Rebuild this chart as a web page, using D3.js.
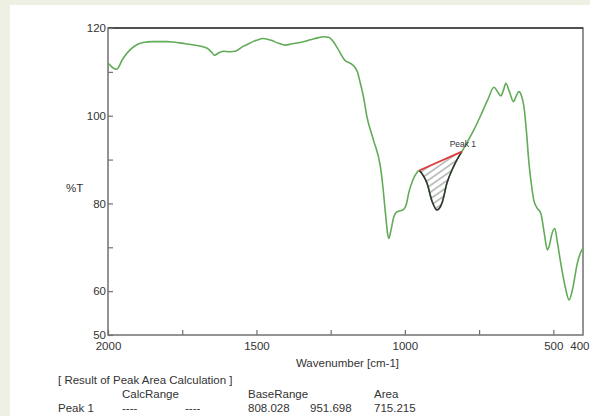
<!DOCTYPE html>
<html><head><meta charset="utf-8">
<script src="https://cdn.jsdelivr.net/npm/d3@7"></script>
<style>
html,body{margin:0;padding:0;background:#eef0e3;}
svg{display:block;font-family:"Liberation Sans",Arial,sans-serif;}
</style></head>
<body>
<svg id="chart" width="590" height="416"></svg>
<script>
// Spectrum data: wavenumber (cm-1) and transmittance (%T)
const wavenumber = [2000,1985,1971,1950,1926,1900,1882,1850,1800,1780,1740,1700,1666,1650,1642,1625,1612,1590,1571,1545,1521,1500,1477,1450,1425,1403,1380,1352,1318,1290,1274,1257,1240,1227,1200,1185,1173,1160,1150,1140,1127,1106,1082,1076,1065,1058,1054,1048,1037,1028,1021,1005,995,987,975,960,951.698,935,926,908,892,875,858,836,820,808.028,790,768,745,721,700,688,677,668,660,648,634,625,616,607,599,590,583,575,566,555,542,530,520,513,505,495,486,475,460,447,435,419,408,400];
const transmittance = [112.0,111.0,110.6,113.0,115.0,116.3,116.7,116.9,116.9,116.8,116.4,116.0,115.4,114.4,113.8,114.4,114.7,114.6,114.7,115.8,116.6,117.2,117.6,117.2,116.5,116.1,116.4,116.7,117.3,117.8,118.0,117.9,116.8,115.4,112.5,112.0,111.4,110.0,107.4,104.5,99.5,94.5,88.2,85.0,77.5,73.0,72.0,73.5,77.0,78.0,78.2,78.6,79.8,82.4,85.0,87.0,87.5,86.0,84.7,80.4,78.5,80.1,84.7,88.4,90.5,91.8,94.0,96.7,100.0,103.6,106.5,105.5,104.5,105.8,107.4,105.5,103.2,104.5,105.5,104.5,102.1,96.0,89.9,85.0,80.8,79.0,77.7,73.0,69.4,70.5,73.0,74.3,71.0,66.4,61.0,58.0,60.5,66.4,68.8,69.8];

// Peak area calculation
const peakBaseRange = [951.698, 808.028];
const peakBaseT = [87.5, 91.8];
const peakLabel = "Peak 1";

// Axis ticks
const xTickValues = [2000,1750,1500,1250,1000,750,500];
const xLabelValues = [2000,1500,1000,500,400];
const yTickValues = [50,60,70,80,90,100,110,120];
const yLabelValues = [50,60,80,100,120];

// Result table
const tableTitle = "[ Result of Peak Area Calculation ]";
const tableHeader = ["CalcRange", "BaseRange", "Area"];
const tableRow = ["Peak 1", "----", "----", "808.028", "951.698", "715.215"];

const svg = d3.select("#chart");
const W = 590, H = 416;
const m = {left:108, top:28, right:583, bottom:335};
const fs = "11.5px";

svg.append("rect").attr("x",10).attr("y",5).attr("width",W-10).attr("height",H-5).attr("fill","#ffffff");

const x = d3.scaleLinear().domain([2000,400]).range([m.left, m.right]);
const y = d3.scaleLinear().domain([50,120]).range([m.bottom, m.top]);

const txt = "#333333";
const axisCol = "#707070";

// Frame
svg.append("rect").attr("x",m.left).attr("y",m.top)
  .attr("width",m.right-m.left).attr("height",m.bottom-m.top)
  .attr("fill","none").attr("stroke",axisCol).attr("stroke-width",1.5);
svg.append("line").attr("x1",m.left).attr("x2",m.right).attr("y1",m.top).attr("y2",m.top)
  .attr("stroke","#3a3a3a").attr("stroke-width",1.5);

// Y axis ticks (inward) and labels
const yTicks = svg.append("g").attr("transform",`translate(${m.left},0)`)
  .call(d3.axisLeft(y).tickValues(yTickValues).tickSize(-5).tickFormat(""));
const yLabels = svg.append("g").attr("transform",`translate(${m.left},0)`)
  .call(d3.axisLeft(y).tickValues(yLabelValues).tickSize(0).tickPadding(2).tickFormat(d3.format("d")));
// X axis
const xTicks = svg.append("g").attr("transform",`translate(0,${m.bottom})`)
  .call(d3.axisBottom(x).tickValues(xTickValues).tickSize(-5).tickFormat(""));
const xLabels = svg.append("g").attr("transform",`translate(0,${m.bottom})`)
  .call(d3.axisBottom(x).tickValues(xLabelValues).tickSize(0).tickPadding(7).tickFormat(d3.format("d")));

[yTicks,yLabels,xTicks,xLabels].forEach(g=>{
  g.select(".domain").remove();
  g.selectAll("line").attr("stroke",axisCol).attr("stroke-width",1.2);
  g.selectAll("text").attr("fill",txt).style("font-size",fs).style("font-family","'Liberation Sans',Arial,sans-serif");
});
// keep the last label inside the picture
xLabels.selectAll(".tick").filter(d=>d===400).select("text")
  .attr("text-anchor","end").attr("x",589-x(400));

svg.append("text").attr("x",66).attr("y",192).attr("fill",txt).style("font-size",fs).text("%T");
svg.append("text").attr("x",(m.left+m.right)/2+2).attr("y",367).attr("text-anchor","middle")
  .attr("fill",txt).style("font-size",fs).text("Wavenumber [cm-1]");

// Spectrum
const pts = wavenumber.map((w,i)=>({w, t: transmittance[i]}));
const line = d3.line().x(d=>x(d.w)).y(d=>y(d.t)).curve(d3.curveMonotoneX);
svg.append("path").datum(pts).attr("d",line)
  .attr("fill","none").attr("stroke","#62ab58").attr("stroke-width",1.6);

// Peak area
const peakPts = pts.filter(d=>d.w<=peakBaseRange[0] && d.w>=peakBaseRange[1]);
const defs = svg.append("defs");
const pat = defs.append("pattern").attr("id","hatch").attr("patternUnits","userSpaceOnUse")
  .attr("width",5.5).attr("height",5.5).attr("patternTransform","rotate(-35)");
pat.append("line").attr("x1",0).attr("y1",2.75).attr("x2",5.5).attr("y2",2.75)
  .attr("stroke","#6a6a6a").attr("stroke-width",0.8);
const areaPath = line(peakPts) + `L${x(peakBaseRange[1])},${y(peakBaseT[1])}L${x(peakBaseRange[0])},${y(peakBaseT[0])}Z`;
svg.append("path").attr("d",areaPath).attr("fill","url(#hatch)").attr("stroke","none");
svg.append("path").datum(peakPts).attr("d",line)
  .attr("fill","none").attr("stroke","#333333").attr("stroke-width",1.5);
svg.append("line").attr("x1",x(peakBaseRange[0])).attr("y1",y(peakBaseT[0]))
  .attr("x2",x(peakBaseRange[1])).attr("y2",y(peakBaseT[1]))
  .attr("stroke","#e03a3a").attr("stroke-width",1.8);
svg.append("text").attr("x",x(peakBaseRange[1])+1).attr("y",y(peakBaseT[1])-5).attr("text-anchor","middle")
  .attr("fill",txt).style("font-size","8.5px").text(peakLabel);

// Table
svg.append("text").attr("x",58).attr("y",384).attr("fill",txt).style("font-size",fs).text(tableTitle);
const hx = [122, 248, 374];
tableHeader.forEach((h,i)=>svg.append("text").attr("x",hx[i]).attr("y",398).attr("fill",txt).style("font-size",fs).text(h));
const rx = [58, 122, 185, 248, 310, 374];
tableRow.forEach((v,i)=>svg.append("text").attr("x",rx[i]).attr("y",412).attr("fill",txt).style("font-size",fs).text(v));
</script>
</body></html>
